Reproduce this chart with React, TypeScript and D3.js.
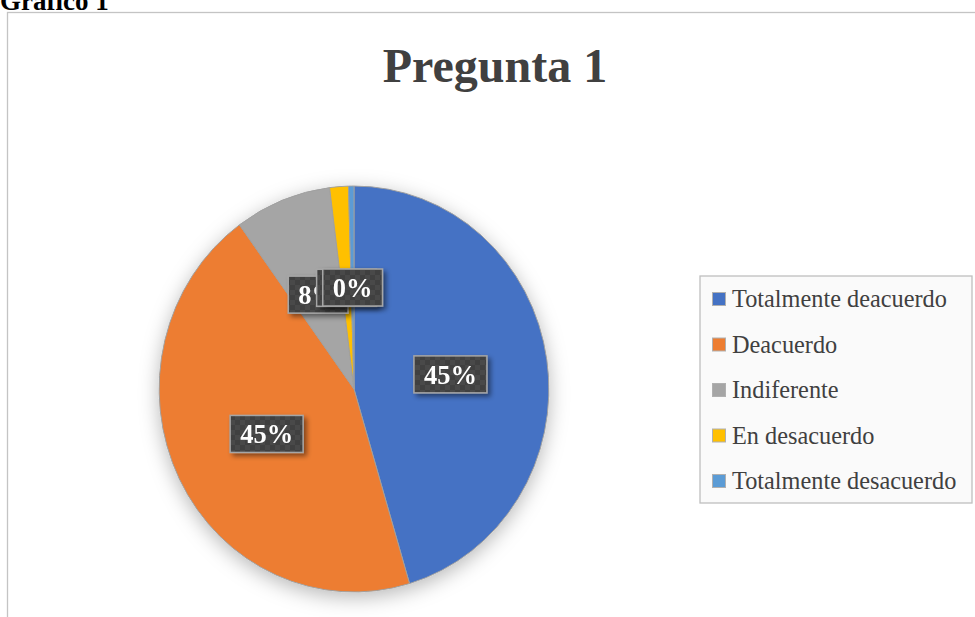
import React, { useEffect, useRef } from "react";
import * as d3 from "d3";

const caption = "Gráfico 1";
const chartTitle = "Pregunta 1";
const categories = [
  "Totalmente deacuerdo",
  "Deacuerdo",
  "Indiferente",
  "En desacuerdo",
  "Totalmente desacuerdo",
];
const values = [0.454, 0.446, 0.08, 0.0155, 0.0045];
const colors = ["#4472C4", "#ED7D31", "#A5A5A5", "#FFC000", "#5B9BD5"];

const SERIF = "'Liberation Serif', 'Times New Roman', serif";

export default function App() {
  const ref = useRef<SVGSVGElement>(null);

  useEffect(() => {
    const svg = d3.select(ref.current);
    svg.selectAll("*").remove();

    const defs = svg.append("defs");
    const pieShadow = defs
      .append("filter")
      .attr("id", "pieShadow")
      .attr("x", "-30%")
      .attr("y", "-30%")
      .attr("width", "160%")
      .attr("height", "160%");
    pieShadow
      .append("feDropShadow")
      .attr("dx", 0)
      .attr("dy", 5)
      .attr("stdDeviation", 10)
      .attr("flood-color", "#000")
      .attr("flood-opacity", 0.28);

    const lblShadow = defs
      .append("filter")
      .attr("id", "lblShadow")
      .attr("x", "-30%")
      .attr("y", "-30%")
      .attr("width", "160%")
      .attr("height", "160%");
    lblShadow
      .append("feDropShadow")
      .attr("dx", 3)
      .attr("dy", 3)
      .attr("stdDeviation", 2.5)
      .attr("flood-color", "#000")
      .attr("flood-opacity", 0.45);

    const pat = defs
      .append("pattern")
      .attr("id", "checker")
      .attr("patternUnits", "userSpaceOnUse")
      .attr("width", 10)
      .attr("height", 10);
    pat.append("rect").attr("width", 10).attr("height", 10).attr("fill", "#404040");
    pat.append("rect").attr("width", 5).attr("height", 5).attr("fill", "#4a4a4a");
    pat.append("rect").attr("x", 5).attr("y", 5).attr("width", 5).attr("height", 5).attr("fill", "#4a4a4a");

    // caption
    svg
      .append("text")
      .attr("x", 0)
      .attr("y", 10)
      .attr("font-family", SERIF)
      .attr("font-weight", "bold")
      .attr("font-size", 27)
      .attr("fill", "#000")
      .text(caption);

    // frame
    svg
      .append("rect")
      .attr("x", 7.5)
      .attr("y", 12.5)
      .attr("width", 1000)
      .attr("height", 700)
      .attr("fill", "#fff")
      .attr("stroke", "#c4c4c4")
      .attr("stroke-width", 1.3);

    // title
    svg
      .append("text")
      .attr("x", 495)
      .attr("y", 82)
      .attr("text-anchor", "middle")
      .attr("font-family", SERIF)
      .attr("font-weight", "bold")
      .attr("font-size", 48)
      .attr("fill", "#404040")
      .text(chartTitle);

    // pie
    const cx = 354,
      cy = 389,
      R = 203,
      sx = 0.96;
    const pie = d3
      .pie<number>()
      .sort(null)
      .value((d) => d)
      .startAngle(0)
      .endAngle(2 * Math.PI);
    const arcs = pie(values);
    const arc = d3.arc<d3.PieArcDatum<number>>().innerRadius(0).outerRadius(R);

    const pg = svg
      .append("g")
      .attr("transform", `translate(${cx},${cy}) scale(${sx},1)`)
      .attr("filter", "url(#pieShadow)");
    pg.selectAll("path")
      .data(arcs)
      .join("path")
      .attr("d", arc)
      .attr("fill", (_, i) => colors[i])
      .attr("stroke", "#a0a0a0")
      .attr("stroke-width", 1);

    // labels
    const fmt = d3.format(".0%");
    const lg = svg.append("g");
    arcs.forEach((d, i) => {
      const [ux, uy] = arc.centroid(d);
      const x = cx + ux * sx;
      const y = cy + uy;
      const g = lg.append("g").attr("filter", "url(#lblShadow)");
      const rect = g.append("rect");
      const t = g
        .append("text")
        .attr("x", x)
        .attr("y", y + 9.5)
        .attr("text-anchor", "middle")
        .attr("font-family", SERIF)
        .attr("font-weight", "bold")
        .attr("font-size", 26.5)
        .attr("fill", "#fff")
        .text(fmt(values[i]));
      const tw = (t.node() as SVGTextElement).getComputedTextLength();
      const w = tw + 20;
      const h = 37;
      rect
        .attr("x", x - w / 2)
        .attr("y", y - h / 2)
        .attr("width", w)
        .attr("height", h)
        .attr("fill", "url(#checker)")
        .attr("stroke", "#a6a6a6")
        .attr("stroke-width", 1.5);
    });

    // legend
    const lx = 700,
      ly = 276,
      lw = 272,
      lh = 227;
    const leg = svg.append("g");
    leg
      .append("rect")
      .attr("x", lx)
      .attr("y", ly)
      .attr("width", lw)
      .attr("height", lh)
      .attr("fill", "#fafafa")
      .attr("stroke", "#bfbfbf")
      .attr("stroke-width", 1.3);
    const rowY = d3
      .scalePoint<string>()
      .domain(categories)
      .range([299, 481]);
    categories.forEach((c, i) => {
      const yy = rowY(c)!;
      leg
        .append("rect")
        .attr("x", 712.5)
        .attr("y", yy - 6.5)
        .attr("width", 13)
        .attr("height", 13)
        .attr("fill", colors[i])
        .attr("stroke", "#b0b0b0")
        .attr("stroke-width", 1);
      leg
        .append("text")
        .attr("x", 732)
        .attr("y", yy + 8)
        .attr("font-family", SERIF)
        .attr("font-size", 24.3)
        .attr("fill", "#404040")
        .text(c);
    });
  }, []);

  return (
    <svg
      ref={ref}
      width={975}
      height={617}
      style={{ position: "absolute", left: 0, top: 0, background: "#fff" }}
    />
  );
}
